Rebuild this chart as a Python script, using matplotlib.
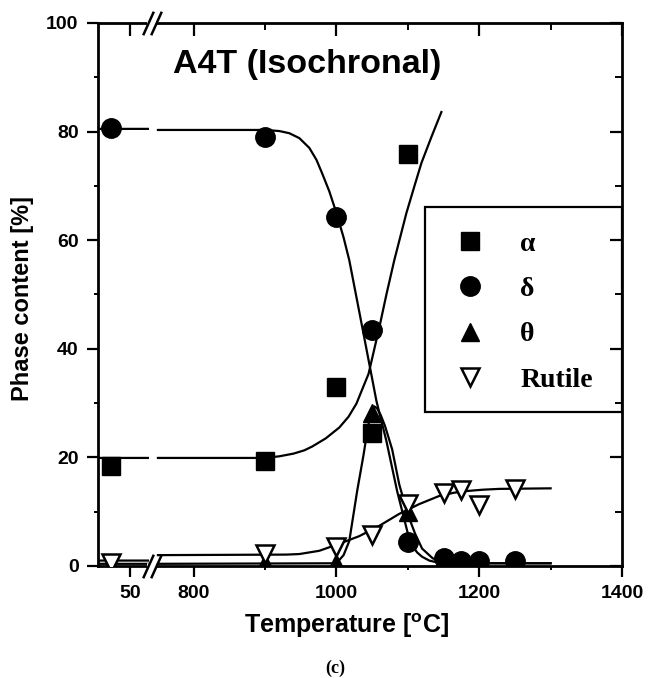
"""Phase content of A4T during isochronal annealing, redrawn to out.png."""

import numpy as np
import matplotlib

matplotlib.use("Agg")
import matplotlib.pyplot as plt
from matplotlib.patches import Rectangle

nan = np.nan

# measured points: annealing temperature [C] and phase content [%]
alpha_temp = [20, 900, 1000, 1050, 1100]
alpha_pct = [18.5, 19.4, 33.0, 24.5, 75.8]
delta_temp = [20, 900, 1000, 1050, 1100, 1150, 1175, 1200, 1250]
delta_pct = [80.6, 79.0, 64.2, 43.5, 4.5, 1.5, 1.0, 1.0, 1.0]
theta_temp = [20, 900, 1000, 1050, 1100, 1150, 1175, 1200, 1250]
theta_pct = [0.0, 0.5, 0.5, 28.2, 10.0, 0.8, 1.0, 1.0, 1.0]
rutile_temp = [20, 900, 1000, 1050, 1100, 1150, 1175, 1200, 1250]
rutile_pct = [0.5, 2.3, 3.5, 5.7, 11.5, 13.5, 14.0, 11.3, 14.2]

# guide curves (nan leaves the gap at the axis break)
alpha_fit_temp = [0, 78, 400, 750, 900, 920, 940, 955, 966, 985, 1004, 1017, 1028, 1045, 1060,
                  1070, 1081, 1098, 1110, 1119, 1133, 1147]
alpha_fit_pct = [19.9, 19.9, nan, 19.9, 19.9, 20.2, 20.7, 21.3, 22.0, 23.5, 25.5, 27.5, 29.9, 35.4, 43.9,
                 50.0, 56.3, 65.0, 70.3, 74.2, 79.0, 83.6]
delta_fit_temp = [0, 78, 400, 750, 900, 920, 934, 948, 962, 972, 980, 990, 1000, 1010, 1018, 1037,
                  1056, 1070, 1085, 1100, 1106, 1113, 1120, 1130, 1140, 1150, 1200, 1300]
delta_fit_pct = [80.5, 80.5, nan, 80.3, 80.3, 80.1, 79.7, 78.8, 77.0, 74.8, 72.3, 69.0, 65.0, 60.5, 56.3, 43.4,
                 30.4, 23.0, 13.8, 6.0, 3.8, 2.5, 1.7, 1.0, 0.7, 0.6, 0.5, 0.5]
theta_fit_temp = [0, 78, 400, 750, 1000, 1010, 1018, 1029, 1038, 1044, 1049, 1053, 1057, 1062, 1068,
                  1078, 1088, 1100, 1110, 1120, 1135, 1150, 1200, 1300]
theta_fit_pct = [0.4, 0.4, nan, 0.4, 0.5, 2.0, 4.6, 13.8, 20.5, 25.5, 28.6, 29.4, 29.0, 27.8, 25.8,
                 21.5, 15.0, 9.5, 6.0, 3.2, 1.4, 0.7, 0.5, 0.5]
rutile_fit_temp = [0, 78, 400, 750, 930, 948, 976, 1004, 1032, 1060, 1088, 1116, 1144, 1165, 1182,
                   1205, 1228, 1300]
rutile_fit_pct = [1.0, 1.0, nan, 2.0, 2.1, 2.2, 2.8, 4.1, 5.5, 7.4, 9.6, 11.4, 12.9, 13.5, 13.8,
                  14.05, 14.2, 14.3]

legend_labels = ["\u03b1", "\u03b4", "\u03b8", "Rutile"]
x_major = [50, 800, 1000, 1200, 1400]
x_minor = [900, 1100, 1300]
y_major = [0, 20, 40, 60, 80, 100]
y_minor = [10, 30, 50, 70, 90]

# broken x axis: 0..92 C squeezed into a stub, 750 C onward linear
SCALE_T = [-1.0e4, 0.0, 92.0, 750.0, 1.0e5]
SCALE_U = [666.0 - 0.896e4, 666.0, 748.4, 750.0, 1.0e5]
BREAK_T = 84

SANS = "Liberation Sans"
SERIF = "Liberation Serif"


def _forward(t):
    return np.interp(t, SCALE_T, SCALE_U)


def _inverse(u):
    return np.interp(u, SCALE_U, SCALE_T)


def _style_ticks(axis, direction, major_len, minor_len):
    axis.tick_params(which="major", direction=direction, length=major_len, width=1.6)
    axis.tick_params(which="minor", direction=direction, length=minor_len, width=1.4)


def main():
    plt.rcParams["font.family"] = [SANS, "DejaVu Sans"]
    plt.rcParams["font.weight"] = "bold"
    plt.rcParams["mathtext.fontset"] = "custom"
    plt.rcParams["mathtext.rm"] = f"{SANS}:bold"
    plt.rcParams["mathtext.bf"] = f"{SANS}:bold"

    fig = plt.figure(figsize=(6.52, 6.78), dpi=100)
    ax = fig.add_axes([0.1503, 0.1652, 0.8037, 0.8009])
    ax.set_xscale("function", functions=(_forward, _inverse))
    ax.set_xlim(0, 1400)
    ax.set_ylim(0, 100)

    curve_kw = dict(color="black", lw=1.6, zorder=2, solid_joinstyle="round")
    ax.plot(alpha_fit_temp, alpha_fit_pct, **curve_kw)
    ax.plot(delta_fit_temp, delta_fit_pct, **curve_kw)
    ax.plot(theta_fit_temp, theta_fit_pct, **curve_kw)
    ax.plot(rutile_fit_temp, rutile_fit_pct, **curve_kw)

    mark_kw = dict(ls="none", color="black", zorder=3)
    ax.plot(alpha_temp, alpha_pct, marker="s", ms=12.5, label=legend_labels[0], **mark_kw)
    ax.plot(delta_temp, delta_pct, marker="o", ms=14, label=legend_labels[1], **mark_kw)
    ax.plot(theta_temp, theta_pct, marker="^", ms=13, label=legend_labels[2], **mark_kw)
    ax.plot(rutile_temp, rutile_pct, marker="v", ms=12.5, mfc="white", mew=1.8,
            label=legend_labels[3], **mark_kw)

    ax.set_xticks(x_major)
    ax.set_xticks(x_minor, minor=True)
    ax.set_yticks(y_major)
    ax.set_yticks(y_minor, minor=True)
    ax.tick_params(labelsize=14, pad=6)
    _style_ticks(ax, "out", 8, 3)
    for spine in ax.spines.values():
        spine.set_linewidth(2.0)

    # inward ticks on the top and right sides
    ax_top = ax.twiny()
    ax_top.set_xscale("function", functions=(_forward, _inverse))
    ax_top.set_xlim(0, 1400)
    ax_top.set_xticks(x_major)
    ax_top.set_xticks(x_minor, minor=True)
    ax_top.tick_params(labeltop=False)
    _style_ticks(ax_top, "in", 9, 5)
    ax_right = ax.twinx()
    ax_right.set_ylim(0, 100)
    ax_right.set_yticks(y_major)
    ax_right.set_yticks(y_minor, minor=True)
    ax_right.tick_params(labelright=False)
    _style_ticks(ax_right, "in", 9, 5)
    for twin in (ax_top, ax_right):
        for spine in twin.spines.values():
            spine.set_visible(False)

    # axis break marks on top and bottom spines
    trans = ax.get_xaxis_transform()
    for y_spine in (0, 1):
        ax.plot([BREAK_T - 7, BREAK_T + 7], [y_spine, y_spine], transform=trans, color="white",
                lw=4, clip_on=False, zorder=5, solid_capstyle="butt")
        ax.plot([BREAK_T - 6, BREAK_T + 6], [y_spine, y_spine], transform=trans, ls="none",
                marker=[(-0.45, -1), (0.45, 1)], ms=17, mew=1.8, color="black",
                clip_on=False, zorder=6)

    ax.text(0.143, 0.908, "A4T (Isochronal)", transform=ax.transAxes, fontsize=24.5,
            fontweight="bold", ha="left", va="baseline")

    ax.add_patch(Rectangle((0.624, 0.2836), 0.376, 0.3775, transform=ax.transAxes,
                           facecolor="white", edgecolor="black", lw=1.6, zorder=4))
    legend = ax.legend(loc="center left", bbox_to_anchor=(0.624, 0.4678), frameon=False,
                       borderaxespad=0, borderpad=0.4, handlelength=2.45, handletextpad=0.58,
                       labelspacing=0.72, numpoints=1,
                       prop={"family": [SERIF, "DejaVu Serif"], "weight": "bold", "size": 20})
    legend.set_zorder(5)

    ax.set_ylabel("Phase content [%]", fontsize=17, fontweight="bold")
    ax.yaxis.set_label_coords(-0.122, 0.492)
    ax.set_xlabel("Temperature [$^{\\mathbf{o}}$C]", fontsize=18, fontweight="bold")
    ax.xaxis.set_label_coords(0.475, -0.083)
    fig.text(335 / 652, 1 - 668 / 678, "(c)", fontsize=13, fontweight="bold",
             family=[SERIF, "DejaVu Serif"], ha="center", va="center")

    fig.savefig("out.png", dpi=100)
    plt.close(fig)


if __name__ == "__main__":
    main()
